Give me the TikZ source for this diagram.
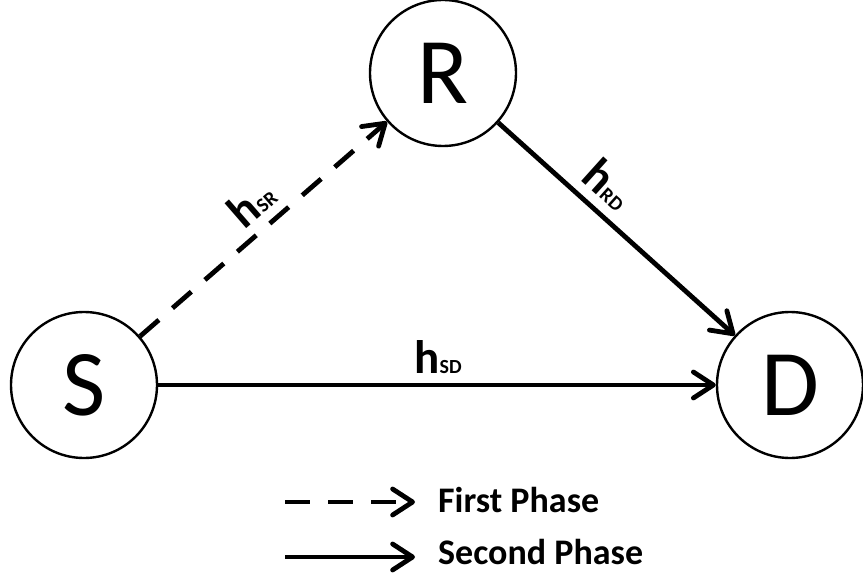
\documentclass[tikz,border=0pt]{standalone}
\usepackage{fontspec}
\setmainfont{Carlito}
\usetikzlibrary{arrows.meta}
\newcommand\hlab[1]{{\fontsize{47}{47}\selectfont h}{\fontsize{20}{20}\selectfont #1}}
\begin{document}
\begin{tikzpicture}[x=1pt,y=-1pt,
  station/.style={circle,draw,line width=2.4pt,minimum size=146pt,inner sep=0pt,font=\fontsize{94}{94}\selectfont},
  link/.style={line width=4.8pt,-{Straight Barb[length=20pt,width=26pt,line cap=round,line join=round]}},
  phaseone/.style={link,dash pattern=on 25pt off 18pt},
  lbl/.style={inner sep=0pt,font=\bfseries},
  legtext/.style={anchor=west,inner sep=0pt,font=\bfseries\fontsize{36}{36}\selectfont}]
\useasboundingbox (0,0) rectangle (863,575);
\node[station] (S) at (84,385) {S};
\node[station] (R) at (443,73) {R};
\node[station] (D) at (790,385) {D};
\draw[phaseone] (S) -- (R);
\draw[link] (R) -- (D);
\draw[link] (S) -- (D);
\node[lbl,rotate=41] (lSR) at (251,203) {\hlab{SR}};
\node[lbl,rotate=-42] (lRD) at (609,184) {\hlab{RD}};
\node[lbl] (lSD) at (438,357) {\hlab{SD}};
\coordinate (a1) at (285,502);
\coordinate (a2) at (415,502);
\coordinate (b1) at (285,557);
\coordinate (b2) at (415,557);
\draw[phaseone] (a1) -- (a2);
\draw[link] (b1) -- (b2);
\node[legtext] (t1) at (438,500) {First Phase};
\node[legtext] (t2) at (438,552) {Second Phase};
\end{tikzpicture}
\end{document}
